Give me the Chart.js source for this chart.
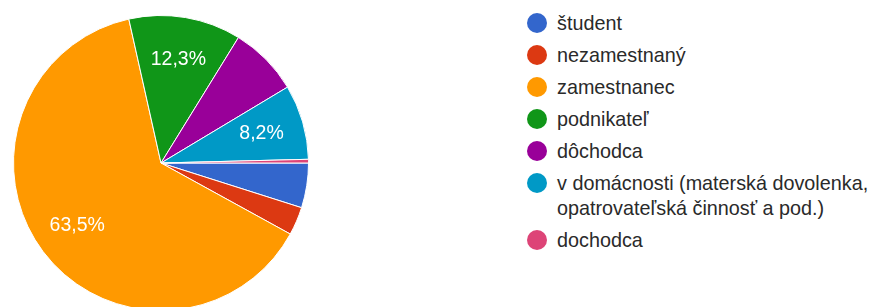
<!DOCTYPE html>
<html>
<head>
<meta charset="utf-8">
<script src="https://cdn.jsdelivr.net/npm/chart.js@4.4.1/dist/chart.umd.min.js"></script>
<style>
  html, body { margin: 0; padding: 0; background: #fff; overflow: hidden; width: 873px; height: 307px; }
  #pie { position: absolute; left: 13px; top: 15px; width: 296px; height: 296px; }
  #legenda { position: absolute; left: 527px; top: 11px; margin: 0; padding: 0; list-style: none;
    font-family: "Liberation Sans", Arial, sans-serif; font-size: 19.8px; color: #2a2a2a; }
  #legenda li { position: relative; padding-left: 30px; line-height: 25px; margin-bottom: 7px; }
  #legenda .bod { position: absolute; left: 0; top: 2px; width: 20px; height: 20px; border-radius: 50%; }
</style>
</head>
<body>
<div id="pie"><canvas id="graf"></canvas></div>
<ul id="legenda"></ul>
<script>
// kategórie (posledná položka v legende je zalomená na dva riadky)
const kategorie = [
  'študent',
  'nezamestnaný',
  'zamestnanec',
  'podnikateľ',
  'dôchodca',
  ['v domácnosti (materská dovolenka,', 'opatrovateľská činnosť a pod.)'],
  'dochodca'
];

// podiely v percentách odčítané z grafu
const podiely = [4.9, 3.1, 63.5, 12.3, 7.6, 8.2, 0.4];

// farby výsekov
const farby = ['#3366cc', '#dc3912', '#ff9900', '#109618', '#990099', '#0099c6', '#dd4477'];

// popisky percent len na dostatočne veľkých výsekoch
const popiskyPlugin = {
  id: 'popisky',
  afterDatasetsDraw(chart) {
    const ctx = chart.ctx;
    const meta = chart.getDatasetMeta(0);
    const spolu = podiely.reduce((a, b) => a + b, 0);
    ctx.save();
    ctx.fillStyle = '#fff';
    ctx.font = '19.5px "Liberation Sans", Arial, sans-serif';
    ctx.textAlign = 'center';
    ctx.textBaseline = 'middle';
    meta.data.forEach((arc, i) => {
      const p = podiely[i] / spolu * 100;
      if (p < 8) return;
      const uhol = (arc.startAngle + arc.endAngle) / 2;
      const r = arc.outerRadius * 0.71;
      const x = arc.x + Math.cos(uhol) * r;
      const y = arc.y + Math.sin(uhol) * r;
      ctx.fillText(p.toFixed(1).replace('.', ',') + '%', x, y);
    });
    ctx.restore();
  }
};

new Chart(document.getElementById('graf').getContext('2d'), {
  type: 'pie',
  data: {
    labels: kategorie,
    datasets: [{
      data: podiely,
      backgroundColor: farby,
      borderColor: '#fff',
      borderWidth: 1
    }]
  },
  options: {
    responsive: true,
    maintainAspectRatio: false,
    animation: false,
    rotation: 90, // prvý výsek začína na 3 hodinách
    plugins: {
      legend: { display: false },
      tooltip: { enabled: false }
    }
  },
  plugins: [popiskyPlugin]
});

// legenda vpravo
const ul = document.getElementById('legenda');
kategorie.forEach((k, i) => {
  const li = document.createElement('li');
  const bod = document.createElement('span');
  bod.className = 'bod';
  bod.style.background = farby[i];
  li.appendChild(bod);
  const riadky = Array.isArray(k) ? k : [k];
  riadky.forEach((t, j) => {
    if (j > 0) li.appendChild(document.createElement('br'));
    li.appendChild(document.createTextNode(t));
  });
  ul.appendChild(li);
});
</script>
</body>
</html>
